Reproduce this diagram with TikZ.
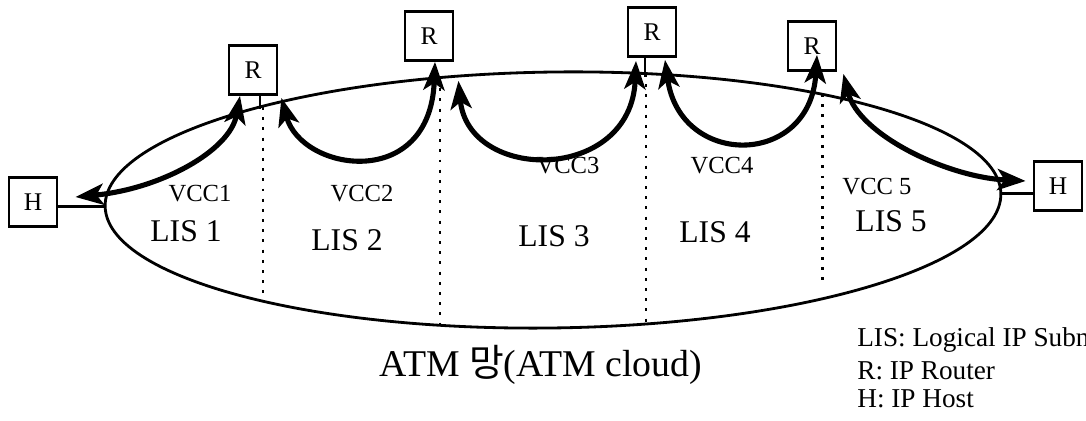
\documentclass[tikz,border=0pt]{standalone}
\usepackage{fontspec}
\setmainfont{Liberation Serif}
\newfontfamily\kr{Noto Sans CJK KR}
\usetikzlibrary{shapes.geometric,arrows.meta,calc}

\begin{document}
\begin{tikzpicture}[x=0.02cm, y=0.02cm,
  box/.style={draw, line width=1.6pt, minimum width=0.96cm, minimum height=0.98cm, inner sep=0pt, font=\fontsize{14.5}{16}\selectfont},
  vcc/.style={line width=2.9pt, {Stealth[length=16pt,width=12pt,inset=4pt]}-{Stealth[length=16pt,width=12pt,inset=4pt]}},
  link/.style={line width=1.5pt},
  divider/.style={line width=1.7pt, dash pattern=on 1.7pt off 4.1pt},
  lbl/.style={anchor=base, font=\fontsize{14}{16}\selectfont},
  lis/.style={anchor=base, font=\fontsize{18}{20}\selectfont},
  key/.style={anchor=base west, inner sep=0pt, font=\fontsize{15.5}{18}\selectfont}]

  \useasboundingbox (0,0) rectangle (1086,421);

  \node[draw, ellipse, line width=1.6pt, inner sep=0pt, minimum width=17.92cm, minimum height=5.12cm, rotate=0.8] (cloud) at (553,221) {};

  \node[box] (h1) at (33,219) {H};
  \node[box] (h2) at (1058,235) {H};
  \node[box] (r1) at (253,351) {R};
  \node[box] (r2) at (429,385) {R};
  \node[box] (r3) at (652,389) {R};
  \node[box] (r4) at (812,375) {R};

  \draw[link] (cloud.west -| h1.east) -- (cloud.west);
  \draw[link] (cloud.east) -- (cloud.east -| h2.west);
  \draw[link] ($(r1.south)+(7,0)$) -- ++(0,-13);
  \draw[link] ($(r3.south)+(-7,0)$) -- ++(0,-19);

  \foreach \x/\top/\bot in {263/314/127, 440/343/93, 646/347/94, 822/327/134}
    \draw[divider] (\x,\top) -- (\x,\bot);

  \draw[vcc] ($(r1.south)+(-13,0)$) .. controls +(-10,-55) and +(85,8) .. ($(h1.east)+(17,5)$);
  \draw[vcc] ($(r1.south east)+(3,-2)$) .. controls +(20,-74) and +(-5,-130) .. ($(r2.south)+(6,0)$);
  \draw[vcc] ($(r2.south east)+(4,-19)$) .. controls +(10,-102) and +(-5,-122) .. ($(r3.south)+(-16,-3)$);
  \draw[vcc] ($(r3.south)+(13,-2)$) .. controls +(15,-108) and +(-7,-113) .. ($(r4.south)+(5,17)$);
  \draw[vcc] ($(r4.south east)+(6,-2)$) .. controls +(15,-60) and +(-80,4) .. ($(h2.west)+(-7,5)$);

  \node[lbl] (vcc1) at (200,219) {VCC1};
  \node[lbl] (vcc2) at (362,219) {VCC2};
  \node[lbl] (vcc3) at (568,247) {VCC3};
  \node[lbl] (vcc4) at (722,247) {VCC4};
  \node[lbl] (vcc5) at (877,226) {VCC 5};

  \foreach \x/\y/\n in {186/179/1, 347/170/2, 554/174/3, 715/178/4, 891/189/5}
    \node[lis] (lis\n) at (\x,\y) {LIS \n};

  \node[anchor=base, font=\fontsize{21.5}{24}\selectfont] (atm) at (541,44) {ATM {\kr 망}(ATM cloud)};

  \node[key] (keylis) at (857,74) {LIS: Logical IP Subnet};
  \node[key] (keyr) at (857,41) {R: IP Router};
  \node[key] (keyh) at (857,13) {H: IP Host};
\end{tikzpicture}
\end{document}
